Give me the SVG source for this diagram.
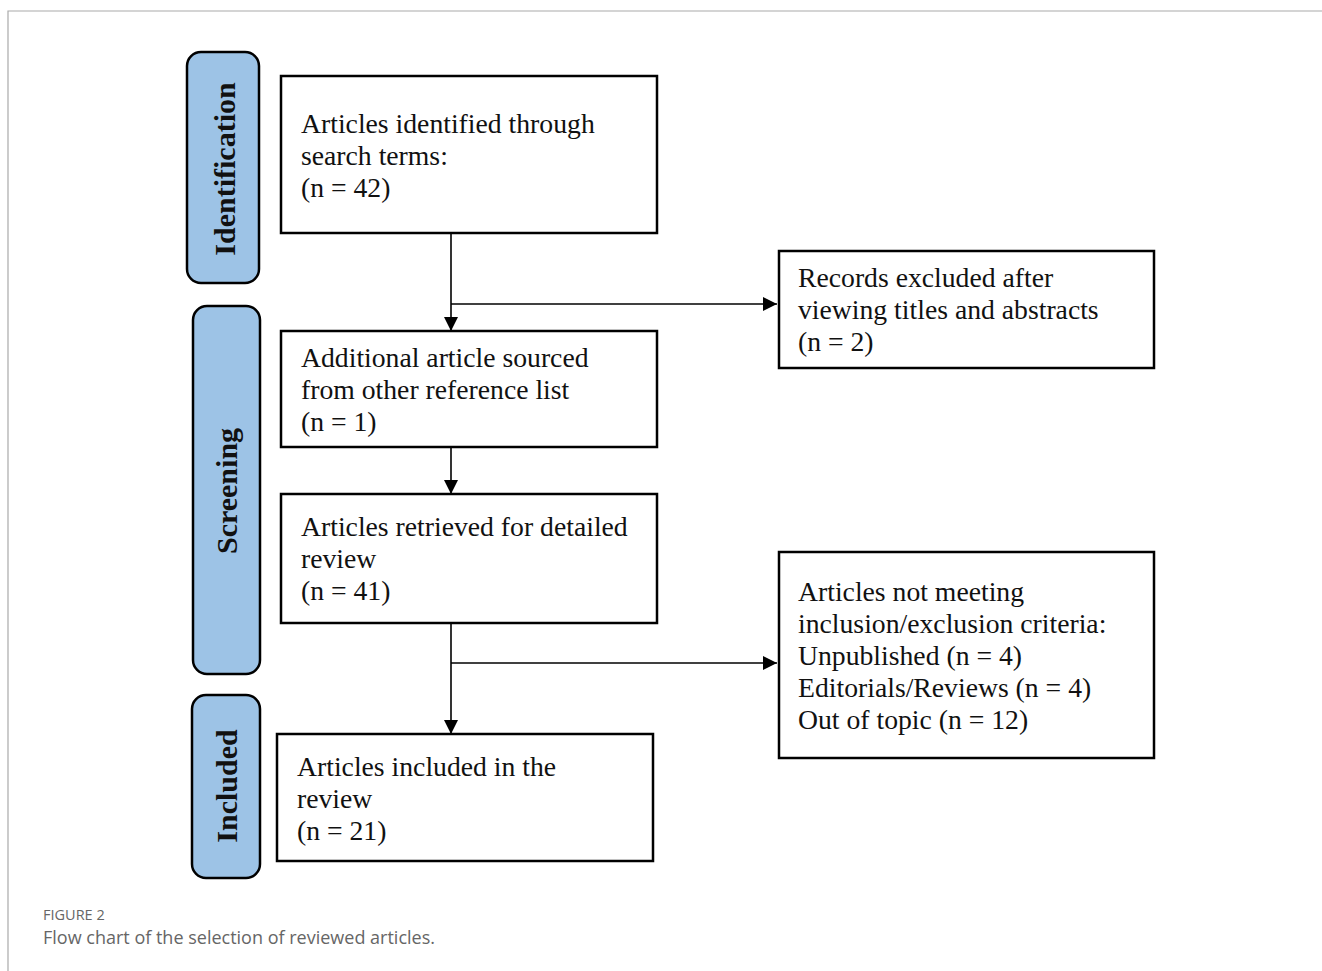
<svg xmlns="http://www.w3.org/2000/svg" width="1322" height="971" viewBox="0 0 1322 971">
<defs>
<marker id="arr" viewBox="0 0 10 10" refX="10" refY="5" markerWidth="14" markerHeight="14" markerUnits="userSpaceOnUse" orient="auto">
<path d="M0,0 L10,5 L0,10 Z" fill="#000"/>
</marker>
</defs>
<style>
.box{fill:#fff;stroke:#000;stroke-width:2.5}
.side{fill:#9dc3e6;stroke:#000;stroke-width:2.5}
.t{font-family:"Liberation Serif","Times New Roman",serif;font-size:27.7px;fill:#111}
.s{font-family:"Liberation Serif","Times New Roman",serif;font-size:30px;font-weight:bold;fill:#111}
.ln{stroke:#000;stroke-width:1.6;fill:none}
.cap1{font-family:"Open Sans","Liberation Sans",sans-serif;font-size:14.5px;fill:#666}
.cap2{font-family:"Open Sans","Liberation Sans",sans-serif;font-size:18px;fill:#666}
</style>
<rect width="1322" height="971" fill="#fff"/>
<path d="M8,971 L8,11 L1322,11" fill="none" stroke="#aaa" stroke-width="1.2"/>
<g id="side-identification">
<rect class="side" x="187" y="52" width="72" height="231" rx="14"/>
<text class="s" transform="translate(235,169) rotate(-90)" text-anchor="middle">Identification</text>
</g>
<g id="side-screening">
<rect class="side" x="193" y="306" width="67" height="368" rx="14"/>
<text class="s" transform="translate(237,491) rotate(-90)" text-anchor="middle">Screening</text>
</g>
<g id="side-included">
<rect class="side" x="192" y="695" width="68" height="183" rx="14"/>
<text class="s" transform="translate(237,786) rotate(-90)" text-anchor="middle">Included</text>
</g>
<g id="connectors">
<path class="ln" d="M451,233 L451,331" marker-end="url(#arr)"/>
<path class="ln" d="M451,304 L777,304" marker-end="url(#arr)"/>
<path class="ln" d="M451,447 L451,494" marker-end="url(#arr)"/>
<path class="ln" d="M451,623 L451,734" marker-end="url(#arr)"/>
<path class="ln" d="M451,663 L777,663" marker-end="url(#arr)"/>
</g>
<g id="box-identified">
<rect class="box" x="281" y="76" width="376" height="157"/>
<text class="t" x="301" y="133">Articles identified through</text>
<text class="t" x="301" y="165">search terms:</text>
<text class="t" x="301" y="197">(n = 42)</text>
</g>
<g id="box-additional">
<rect class="box" x="281" y="331" width="376" height="116"/>
<text class="t" x="301" y="367">Additional article sourced</text>
<text class="t" x="301" y="399">from other reference list</text>
<text class="t" x="301" y="431">(n = 1)</text>
</g>
<g id="box-retrieved">
<rect class="box" x="281" y="494" width="376" height="129"/>
<text class="t" x="301" y="536">Articles retrieved for detailed</text>
<text class="t" x="301" y="568">review</text>
<text class="t" x="301" y="600">(n = 41)</text>
</g>
<g id="box-included">
<rect class="box" x="277" y="734" width="376" height="127"/>
<text class="t" x="297" y="776">Articles included in the</text>
<text class="t" x="297" y="808">review</text>
<text class="t" x="297" y="840">(n = 21)</text>
</g>
<g id="box-excluded-titles">
<rect class="box" x="779" y="251" width="375" height="117"/>
<text class="t" x="798" y="287">Records excluded after</text>
<text class="t" x="798" y="319">viewing titles and abstracts</text>
<text class="t" x="798" y="351">(n = 2)</text>
</g>
<g id="box-excluded-criteria">
<rect class="box" x="779" y="552" width="375" height="206"/>
<text class="t" x="798" y="601">Articles not meeting</text>
<text class="t" x="798" y="633">inclusion/exclusion criteria:</text>
<text class="t" x="798" y="665">Unpublished (n = 4)</text>
<text class="t" x="798" y="697">Editorials/Reviews (n = 4)</text>
<text class="t" x="798" y="729">Out of topic (n = 12)</text>
</g>
<text class="cap1" x="43" y="920">FIGURE 2</text>
<text class="cap2" x="43" y="944">Flow chart of the selection of reviewed articles.</text>
</svg>
